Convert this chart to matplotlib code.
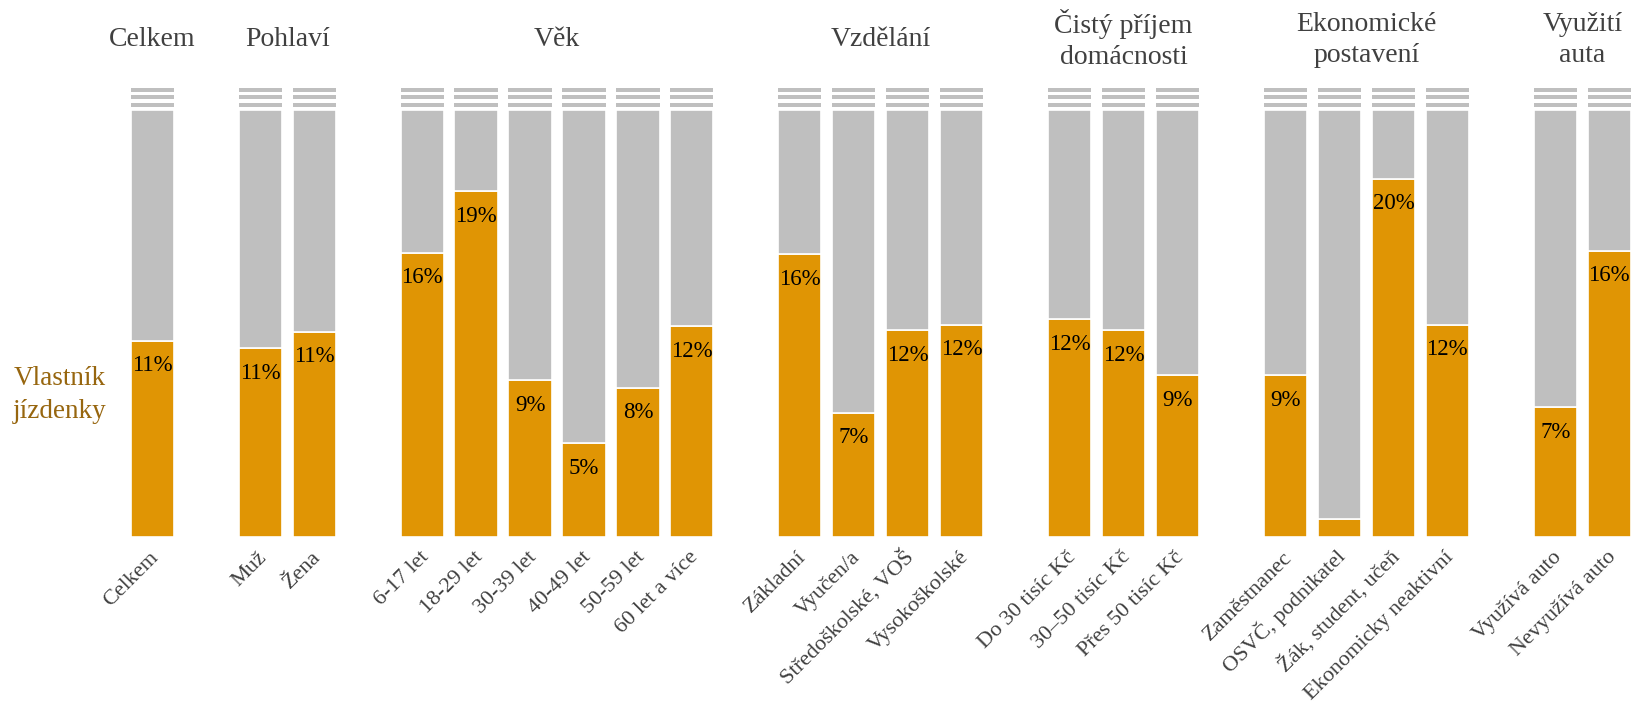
import numpy as np
import matplotlib
matplotlib.use("Agg")
import matplotlib.pyplot as plt
from matplotlib.transforms import ScaledTranslation

plt.rcParams['font.family'] = ['Liberation Serif', 'DejaVu Serif']

# groups of categories, share of ticket owners in %
groups = ['Celkem', 'Pohlaví', 'Věk', 'Vzdělání', 'Čistý příjem\ndomácnosti',
          'Ekonomické\npostavení', 'Využití\nauta']
categories = [
    ['Celkem'],
    ['Muž', 'Žena'],
    ['6-17 let', '18-29 let', '30-39 let', '40-49 let', '50-59 let', '60 let a více'],
    ['Základní', 'Vyučen/a', 'Středoškolské, VOŠ', 'Vysokoškolské'],
    ['Do 30 tisíc Kč', '30–50 tisíc Kč', 'Přes 50 tisíc Kč'],
    ['Zaměstnanec', 'OSVČ, podnikatel', 'Žák, student, učeň', 'Ekonomicky neaktivní'],
    ['Využívá auto', 'Nevyužívá auto'],
]
values = [
    [10.9],
    [10.5, 11.4],
    [15.8, 19.2, 8.7, 5.2, 8.3, 11.7],
    [15.7, 6.9, 11.5, 11.8],
    [12.1, 11.5, 9.0],
    [9.0, 1.0, 19.9, 11.8],
    [7.2, 15.9],
]
shown = [
    ['11%'],
    ['11%', '11%'],
    ['16%', '19%', '9%', '5%', '8%', '12%'],
    ['16%', '7%', '12%', '12%'],
    ['12%', '12%', '9%'],
    ['9%', '', '20%', '12%'],
    ['7%', '16%'],
]

ORANGE = '#E09504'
GREY = '#BFBFBF'
TEXT = '#404040'
BROWN = '#97660F'
TOP = 23.7  # grey part is cut here, the stripes mark the break
STRIPES = [(23.9, 24.1), (24.33, 24.56), (24.72, 24.94)]

fig = plt.figure(figsize=(16.36, 7.02), dpi=100)
ax = fig.add_axes([0, 165 / 702, 1, 450 / 702])

pos = 0
xs_all, labels_all = [], []
for g, cats, vals, txt in zip(groups, categories, values, shown):
    xs = np.arange(pos, pos + len(cats))
    vals = np.array(vals)
    ax.bar(xs, vals, width=0.8, color=ORANGE, edgecolor='white', linewidth=1.2)
    ax.bar(xs, TOP - vals, bottom=vals, width=0.8, color=GREY,
           edgecolor='white', linewidth=1.2)
    for lo, hi in STRIPES:
        ax.bar(xs, hi - lo, bottom=lo, width=0.8, color=GREY, linewidth=0)
    for x, v, t in zip(xs, vals, txt):
        if t:
            ax.annotate(t, (x, v), xytext=(0, -10.5), textcoords='offset points',
                        ha='center', va='top', fontsize=16.5, color='black')
    ax.text(xs.mean(), 1.105, g, transform=ax.get_xaxis_transform(),
            ha='center', va='center', fontsize=20, color=TEXT, linespacing=1.3)
    xs_all.extend(xs)
    labels_all.extend(cats)
    pos += len(cats) + 1

ax.set_xlim(-2.822, 27.496)
ax.set_ylim(0, 25)
ax.set_xticks(xs_all, labels_all)
ax.tick_params(axis='x', length=0, pad=15, labelsize=16, labelcolor=TEXT)
ax.set_yticks([])
offset = ScaledTranslation(7 / 100, 0, fig.dpi_scale_trans)
for lab in ax.get_xticklabels():
    lab.set_rotation(45)
    lab.set_ha('right')
    lab.set_va('baseline')
    lab.set_rotation_mode('anchor')
    lab.set_transform(lab.get_transform() + offset)
for s in ax.spines.values():
    s.set_visible(False)

ax.text(-1.71, 0.316, 'Vlastník\njízdenky', transform=ax.get_xaxis_transform(),
        ha='center', va='center', fontsize=19.5, color=BROWN, linespacing=1.45)

fig.savefig('out.png', dpi=100)
